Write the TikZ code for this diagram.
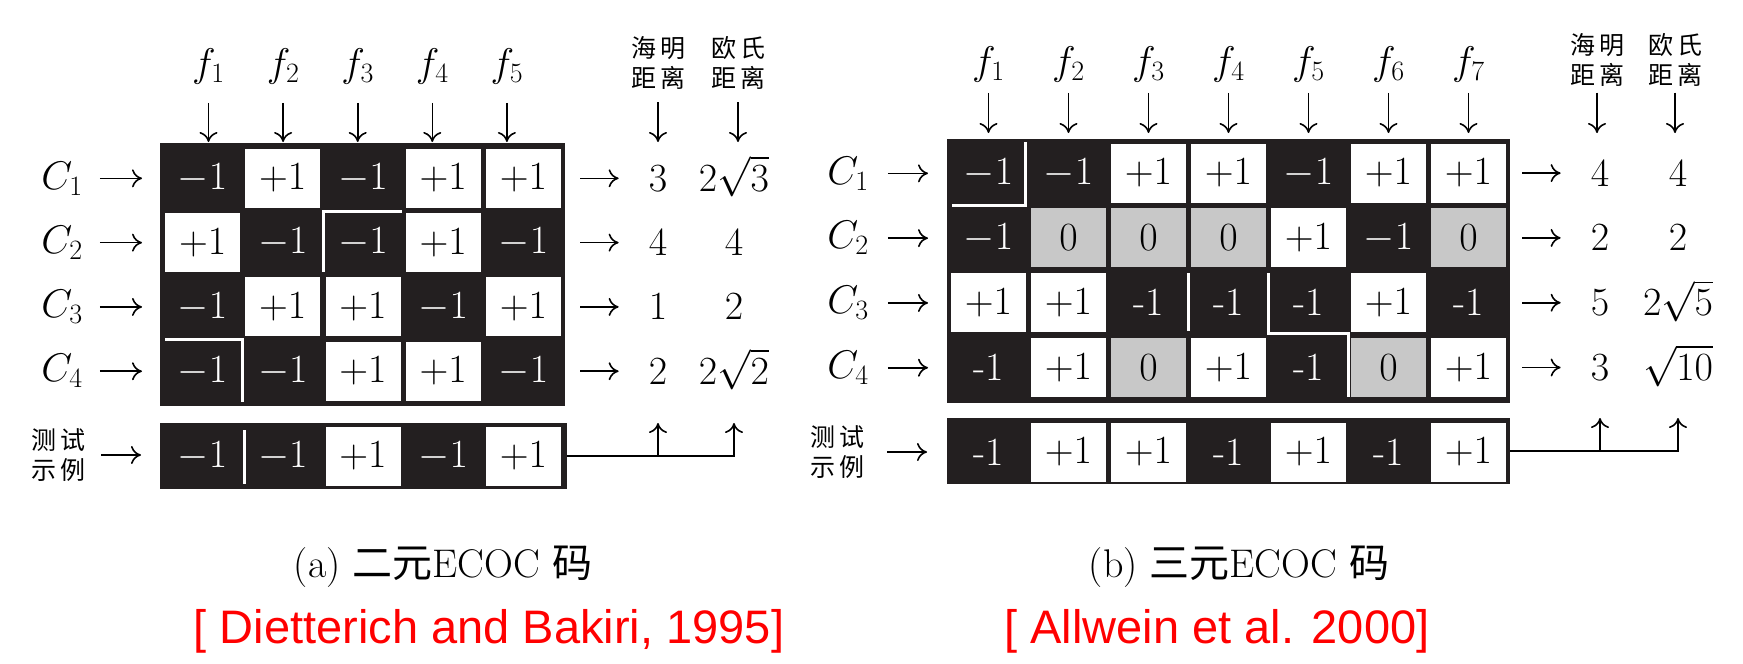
\RequirePackage{fix-cm}
\documentclass[tikz,border=0pt]{standalone}
\usepackage{fontspec}
\newfontfamily\cjk{Noto Sans CJK SC}
\newfontfamily\refsans{Liberation Sans}
\usepackage{tikz}
\usetikzlibrary{positioning,arrows.meta}
\definecolor{cellblack}{RGB}{35,31,32}
\definecolor{cellgray}{RGB}{200,200,200}
\definecolor{refred}{RGB}{255,0,0}

% cell texts
\def\txtb{$-1$}
\def\txth{-1}
\def\txtw{$+1$}
\def\txtg{$0$}

\tikzset{
  big/.style={font=\fontsize{40}{44}\selectfont, inner sep=0pt},
  lab/.style={big, anchor=base},
  cjklab/.style={font=\cjk\fontsize{25}{30}\selectfont, align=center, inner sep=0pt},
  capt/.style={font=\fontsize{40}{44}\selectfont, inner sep=0pt},
  cite/.style={font=\refsans\fontsize{47}{50}\selectfont, text=refred, inner sep=0pt},
  codebox/.style={fill=cellblack, inner sep=0pt, anchor=north west},
  cell/.style={big, minimum width=75pt, minimum height=59pt},
  cellb/.style={cell, text=white},
  cellh/.style={cell, text=white},
  cellw/.style={cell, fill=white},
  cellg/.style={cell, fill=cellgray},
  arr/.style={-{To[length=10pt,width=18pt]}, line width=1.6pt},
  gap/.style={white, line width=3pt},
}

\begin{document}
\begin{tikzpicture}[x=1pt, y=-1pt]
  \useasboundingbox (0,0) rectangle (1743,664);
  % Sizes
  \pgfmathsetmacro{\dxa}{80.2}
  \pgfmathsetmacro{\dya}{64.3}
  \pgfmathsetmacro{\dxb}{80}
  \pgfmathsetmacro{\dyb}{64.8}

  % (a) binary code
  \node[codebox, minimum width=405pt, minimum height=263pt] (mata) at (160,143) {};
  \foreach \row [count=\r] in {{b,w,b,w,w},{w,b,b,w,b},{b,w,w,b,w},{b,b,w,w,b}} {
    \foreach \v [count=\c] in \row
      \node[cell\v] (a\r\c) at ({202.6+(\c-1)*\dxa}, {178.2+(\r-1)*\dya}) {\csname txt\v\endcsname};
  }
  \node[codebox, minimum width=407pt, minimum height=66pt] (testa) at (160,423) {};
  \foreach \v [count=\c] in {b,b,w,b,w}
    \node[cell\v] (ta\c) at ({202.6+(\c-1)*\dxa}, 456) {\csname txt\v\endcsname};
  \draw[gap] (402,211) -- (323,211) -- (323,272);
  \draw[gap] (165,339) -- (242,339) -- (242,402);
  \draw[gap] (244,430) -- (244,484);

  % labels
  \foreach \i in {1,...,5} {
    \node[lab] (fa\i) at ({208.5+(\i-1)*74.6}, 76) {$f_{\i}$};
    \draw[arr, shorten <=19pt, shorten >=1pt] (fa\i) -- (fa\i |- mata.north);
  }
  \foreach \h/\e [count=\r] in {3/2\sqrt{3}, 4/4, 1/2, 2/2\sqrt{2}} {
    \node[lab] (Ca\r) at (62, {189+(\r-1)*\dya}) {$C_{\r}$};
    \node[lab] (ha\r) at (658, {191.2+(\r-1)*\dya}) {$\h$};
    \node[lab] (ea\r) at (734, {191.2+(\r-1)*\dya}) {$\e$};
    \draw[arr, shorten <=17pt, shorten >=18pt] (Ca\r) -- (Ca\r -| mata.west);
    \draw[arr, shorten <=15pt, shorten >=30pt] (mata.east |- ha\r) -- (ha\r);
  }
  \node[cjklab] (hda) at (658, 62.5) {海\hspace{4pt}明\\距\hspace{4pt}离};
  \node[cjklab] (eda) at (738, 62.5) {欧\hspace{4pt}氏\\距\hspace{4pt}离};
  \draw[arr, shorten <=13pt, shorten >=1pt] (hda) -- (hda |- mata.north);
  \draw[arr, shorten <=13pt, shorten >=1pt] (eda) -- (eda |- mata.north);
  \node[cjklab] (tla) at (58, 455) {测\hspace{4pt}试\\示\hspace{4pt}例};
  \draw[arr, shorten <=16pt, shorten >=19pt] (tla) -- (tla -| testa.west);
  \draw[arr] (testa.east) -| (ea4 |- testa.north);
  \draw[arr] (testa.east -| ha4) -- (ha4 |- testa.north);
  \node[capt] (capa) at (443, 567) {(a) {\cjk 二元}ECOC {\cjk 码}};
  \node[cite] (refa) at (489, 631) {[ Dietterich and Bakiri, 1995]};

  % (b) ternary code
  \node[codebox, minimum width=563pt, minimum height=264pt] (matb) at (947,139) {};
  \foreach \row [count=\r] in {{b,b,w,w,b,w,w},{b,g,g,g,w,b,g},{w,w,h,h,h,w,h},{h,w,g,w,h,g,w}} {
    \foreach \v [count=\c] in \row
      \node[cell\v] (b\r\c) at ({988.5+(\c-1)*\dxb}, {173+(\r-1)*\dyb}) {\csname txt\v\endcsname};
  }
  \node[codebox, minimum width=563pt, minimum height=66pt] (testb) at (947,418) {};
  \foreach \v [count=\c] in {h,w,w,h,w,h,w}
    \node[cell\v] (tb\c) at ({988.5+(\c-1)*\dxb}, 452) {\csname txt\v\endcsname};
  \draw[gap] (952,205) -- (1025,205) -- (1025,142);
  \draw[gap] (1188.5,273) -- (1188.5,331);
  \draw[gap] (1268,273) -- (1268,333) -- (1348,333) -- (1348,397);

  % labels
  \foreach \i in {1,...,7} {
    \node[lab] (fb\i) at ({988.5+(\i-1)*\dxb}, 74) {$f_{\i}$};
    \draw[arr, shorten <=11pt, shorten >=6pt] (fb\i) -- (fb\i |- matb.north);
  }
  \foreach \h/\e [count=\r] in {4/4, 2/2, 5/2\sqrt{5}, 3/\sqrt{10}} {
    \node[lab] (Cb\r) at (848, {184+(\r-1)*\dyb}) {$C_{\r}$};
    \node[lab] (hb\r) at (1600, {186+(\r-1)*\dyb}) {$\h$};
    \node[lab] (eb\r) at (1678, {186+(\r-1)*\dyb}) {$\e$};
    \draw[arr, shorten <=19pt, shorten >=19pt] (Cb\r) -- (Cb\r -| matb.west);
    \draw[arr, shorten <=12pt, shorten >=30pt] (matb.east |- hb\r) -- (hb\r);
  }
  \node[cjklab] (hdb) at (1597, 60) {海\hspace{4pt}明\\距\hspace{4pt}离};
  \node[cjklab] (edb) at (1675, 60) {欧\hspace{4pt}氏\\距\hspace{4pt}离};
  \draw[arr, shorten <=6pt, shorten >=6pt] (hdb) -- (hdb |- matb.north);
  \draw[arr, shorten <=6pt, shorten >=6pt] (edb) -- (edb |- matb.north);
  \node[cjklab] (tlb) at (837, 452) {测\hspace{4pt}试\\示\hspace{4pt}例};
  \draw[arr, shorten <=23pt, shorten >=20pt] (tlb) -- (tlb -| testb.west);
  \draw[arr] (testb.east) -| (eb4 |- testb.north);
  \draw[arr] (testb.east -| hb4) -- (hb4 |- testb.north);
  \node[capt] (capb) at (1239, 567) {(b) {\cjk 三元}ECOC {\cjk 码}};
  \node[cite] (refb) at (1217, 631) {[ Allwein et al. 2000]};
\end{tikzpicture}
\end{document}
